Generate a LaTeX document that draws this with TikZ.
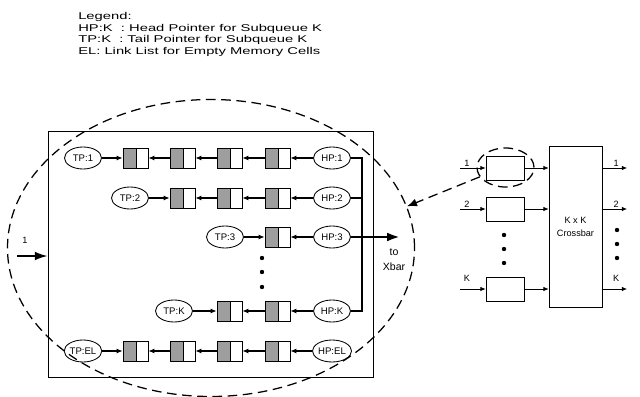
\documentclass[tikz,border=0pt]{standalone}
\usepackage{fontspec}
\setmainfont{Liberation Sans}
\newfontfamily\legendfont[FakeStretch=1.5]{Liberation Sans}
\usetikzlibrary{arrows.meta,shapes.geometric}
\tikzset{
  ptr/.style={draw, ellipse, line width=0.6pt, minimum width=9.25mm, minimum height=5.5mm, inner sep=0pt, font=\fontsize{6.8}{8}\selectfont},
  cell/.style={draw, line width=0.6pt, minimum width=6.25mm, minimum height=5mm, inner sep=0pt,
    path picture={\fill[black!38] (path picture bounding box.south west) rectangle ([xshift=0.3mm]path picture bounding box.north);
      \draw[line width=0.8pt] ([xshift=0.3mm]path picture bounding box.south) -- ([xshift=0.3mm]path picture bounding box.north);}},
  qbox/.style={draw, line width=0.5pt, minimum width=9.5mm, minimum height=6mm, inner sep=0pt},
  arr/.style={-{Latex[length=1.5mm, width=1.3mm]}, line width=0.8pt},
  thin/.style={-{Latex[length=1.3mm, width=1.1mm]}, line width=0.5pt},
  busln/.style={line width=1.5pt},
  ring/.style={draw, ellipse, dashed, dash pattern=on 2.4mm off 1.4mm, line width=0.9pt, inner sep=0pt},
  lbl/.style={font=\fontsize{6.5}{8}\selectfont, inner sep=1pt},
  dot/.style={radius=0.55mm},
}
\begin{document}
\begin{tikzpicture}[x=0.25mm, y=-0.25mm]
  \useasboundingbox (0,0) rectangle (640,397);
  % legend
  \node[anchor=north west, align=left, inner sep=0pt, font=\legendfont\fontsize{7}{8.3}\selectfont] (legend) at (78,12)
    {Legend:\\HP:K\ \ : Head Pointer for Subqueue K\\TP:K\ \ : Tail Pointer for Subqueue K\\EL: Link List for Empty Memory Cells};
  % shared buffer
  \node[draw, line width=0.6pt, minimum width=81.25mm, minimum height=61.5mm] (buf) at (210.5,254) {};
  \node[ptr] (tp1) at (83,158) {TP:1};
  \node[cell] (c11) at (135.5,158) {};
  \node[cell] (c12) at (182.5,158) {};
  \node[cell] (c13) at (229.5,158) {};
  \node[cell] (c14) at (277.5,158) {};
  \node[ptr] (hp1) at (332,158) {HP:1};
  \node[ptr] (tp2) at (130,198) {TP:2};
  \node[cell] (c21) at (182.5,198) {};
  \node[cell] (c22) at (229.5,198) {};
  \node[cell] (c23) at (277.5,198) {};
  \node[ptr] (hp2) at (332,198) {HP:2};
  \node[ptr] (tp3) at (225,237) {TP:3};
  \node[cell] (c31) at (277.5,237) {};
  \node[ptr] (hp3) at (332,237) {HP:3};
  \node[ptr] (tpk) at (174,311) {TP:K};
  \node[cell] (ck1) at (229.5,311) {};
  \node[cell] (ck2) at (277.5,311) {};
  \node[ptr] (hpk) at (332,311) {HP:K};
  \node[ptr] (tpel) at (83,351) {TP:EL};
  \node[cell] (ce1) at (135.5,351) {};
  \node[cell] (ce2) at (182.5,351) {};
  \node[cell] (ce3) at (229.5,351) {};
  \node[cell] (ce4) at (277.5,351) {};
  \node[ptr] (hpel) at (332,351) {HP:EL};
  \fill (262,258) circle[dot];
  \fill (262,272) circle[dot];
  \fill (262,287) circle[dot];
  \draw[arr] (hp1) -- (c14);
  \draw[arr] (c14) -- (c13);
  \draw[arr] (c13) -- (c12);
  \draw[arr] (c12) -- (c11);
  \draw[arr] (tp1) -- (c11);
  \draw[arr] (hp2) -- (c23);
  \draw[arr] (c23) -- (c22);
  \draw[arr] (c22) -- (c21);
  \draw[arr] (tp2) -- (c21);
  \draw[arr] (hp3) -- (c31);
  \draw[arr] (tp3) -- (c31);
  \draw[arr] (hpk) -- (ck2);
  \draw[arr] (ck2) -- (ck1);
  \draw[arr] (tpk) -- (ck1);
  \draw[arr] (hpel) -- (ce4);
  \draw[arr] (ce4) -- (ce3);
  \draw[arr] (ce3) -- (ce2);
  \draw[arr] (ce2) -- (ce1);
  \draw[arr] (tpel) -- (ce1);
  % head pointers to the crossbar
  \draw[busln] (hp1.east) -- ++(11.5,0) |- (hpk.east);
  \draw[busln] (hp2.east) -- ++(11.5,0);
  \coordinate (toxb) at (400,237);
  \draw[-{Latex[length=3.2mm, width=2.2mm]}, line width=1.8pt] (hp3.east) -- (toxb);
  \node[align=center, inner sep=0pt, font=\fontsize{7.5}{10.5}\selectfont] (xblbl) at (394,260) {to\\Xbar};
  \coordinate (in1) at (17,256);
  \draw[-{Latex[length=3.2mm, width=2.2mm]}, line width=1.2pt] (in1) -- node[lbl, pos=0.26, above=2.6mm]{1} (buf.west |- in1);
  % switch with input queues
  \node[qbox] (q1) at (505,168) {};
  \node[qbox] (q2) at (505,209) {};
  \node[qbox] (qk) at (505,289) {};
  \node[draw, line width=0.5pt, minimum width=13.25mm, minimum height=40.25mm, align=center, inner sep=0pt,
    font=\fontsize{6.5}{9.2}\selectfont] (xb) at (575.5,226.5) {K x K\\Crossbar};
  \fill (504,235) circle[dot];
  \fill (504,249) circle[dot];
  \fill (504,263) circle[dot];
  \fill (617,230) circle[dot];
  \fill (617,244) circle[dot];
  \fill (617,258) circle[dot];
  \coordinate (i1) at (460,168);
  \coordinate (i2) at (460,209);
  \coordinate (ik) at (460,289);
  \coordinate (o1) at (627,168);
  \coordinate (o2) at (627,209);
  \coordinate (ok) at (627,289);
  \draw[thin] (i1) -- node[lbl, pos=0.27, above]{1} (q1);
  \draw[thin] (i2) -- node[lbl, pos=0.27, above]{2} (q2);
  \draw[thin] (ik) -- node[lbl, pos=0.27, above=1.5mm]{K} (qk);
  \draw[thin] (q1) -- (xb.west |- q1);
  \draw[thin] (q2) -- (xb.west |- q2);
  \draw[thin] (qk) -- (xb.west |- qk);
  \draw[thin] (xb.east |- o1) -- node[lbl, pos=0.56, above]{1} (o1);
  \draw[thin] (xb.east |- o2) -- node[lbl, pos=0.56, above]{2} (o2);
  \draw[thin] (xb.east |- ok) -- node[lbl, pos=0.56, above=1.5mm]{K} (ok);
  % zoom rings
  \node[ring, minimum width=101.75mm, minimum height=74.25mm] (bigring) at (211,248) {};
  \node[ring, minimum width=14.25mm, minimum height=9.75mm] (q1ring) at (505.5,167.5) {};
  \draw[dashed, dash pattern=on 2.4mm off 1.4mm, line width=0.9pt, -{Latex[length=2.5mm, width=2mm]}] (q1ring.200) -- (bigring.12);
\end{tikzpicture}
\end{document}
